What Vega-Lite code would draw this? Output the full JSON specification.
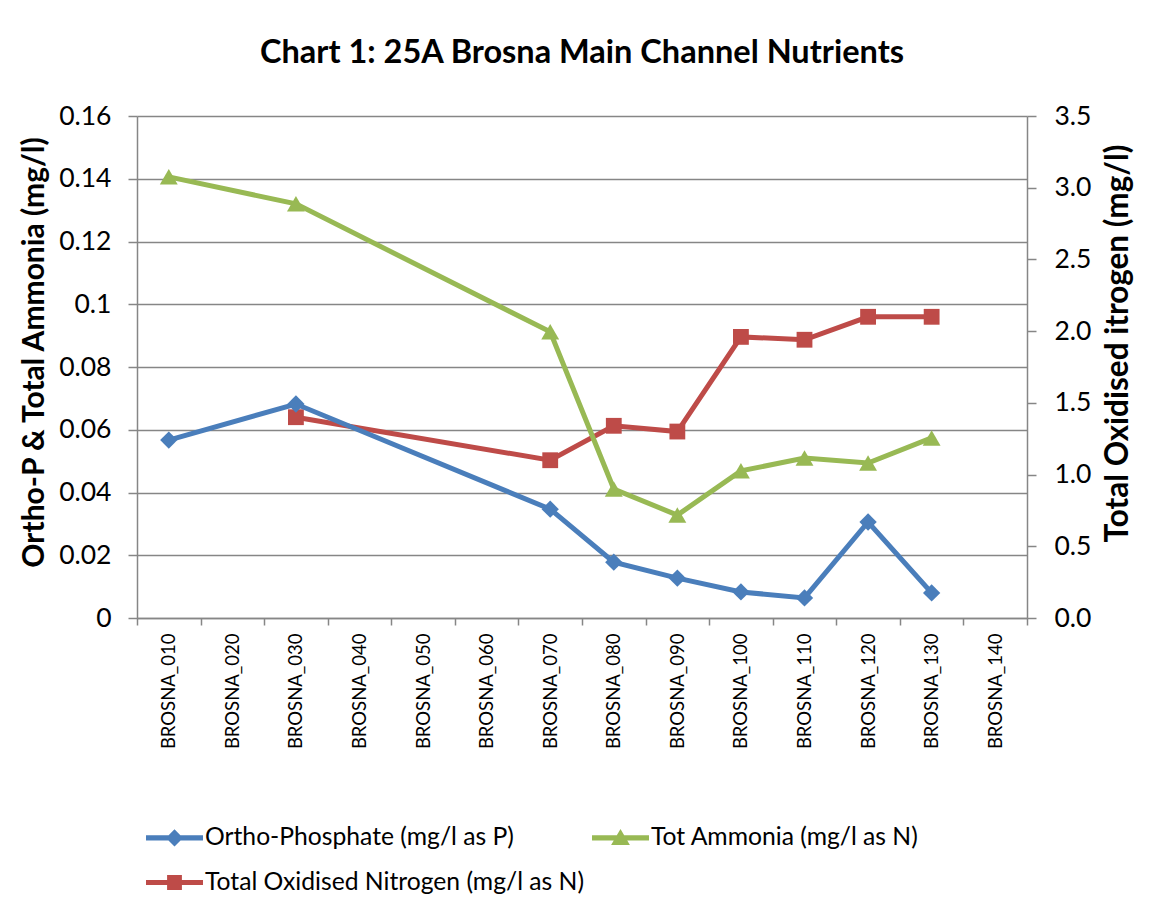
{
  "$schema": "https://vega.github.io/schema/vega-lite/v6.json",
  "width": 890,
  "height": 502,
  "autosize": {"type": "none"},
  "padding": {"left": 137, "top": 116, "right": 124, "bottom": 295},
  "background": "white",
  "title": {
    "text": "Chart 1: 25A Brosna Main Channel Nutrients",
    "font": "Lato",
    "fontSize": 32.5,
    "fontWeight": "bold",
    "color": "#000000",
    "anchor": "middle",
    "frame": "group",
    "baseline": "alphabetic",
    "offset": 8
  },
  "data": {
    "values": [
      {"site": "BROSNA_010", "series": "Ortho-Phosphate (mg/l as P)", "value": 0.0567},
      {"site": "BROSNA_030", "series": "Ortho-Phosphate (mg/l as P)", "value": 0.0682},
      {"site": "BROSNA_070", "series": "Ortho-Phosphate (mg/l as P)", "value": 0.0347},
      {"site": "BROSNA_080", "series": "Ortho-Phosphate (mg/l as P)", "value": 0.0178},
      {"site": "BROSNA_090", "series": "Ortho-Phosphate (mg/l as P)", "value": 0.0127},
      {"site": "BROSNA_100", "series": "Ortho-Phosphate (mg/l as P)", "value": 0.0083},
      {"site": "BROSNA_110", "series": "Ortho-Phosphate (mg/l as P)", "value": 0.0064},
      {"site": "BROSNA_120", "series": "Ortho-Phosphate (mg/l as P)", "value": 0.0306},
      {"site": "BROSNA_130", "series": "Ortho-Phosphate (mg/l as P)", "value": 0.008},
      {"site": "BROSNA_010", "series": "Tot Ammonia (mg/l as N)", "value": 0.1406},
      {"site": "BROSNA_030", "series": "Tot Ammonia (mg/l as N)", "value": 0.132},
      {"site": "BROSNA_070", "series": "Tot Ammonia (mg/l as N)", "value": 0.0912},
      {"site": "BROSNA_080", "series": "Tot Ammonia (mg/l as N)", "value": 0.0411},
      {"site": "BROSNA_090", "series": "Tot Ammonia (mg/l as N)", "value": 0.0328},
      {"site": "BROSNA_100", "series": "Tot Ammonia (mg/l as N)", "value": 0.0469},
      {"site": "BROSNA_110", "series": "Tot Ammonia (mg/l as N)", "value": 0.051},
      {"site": "BROSNA_120", "series": "Tot Ammonia (mg/l as N)", "value": 0.0494},
      {"site": "BROSNA_130", "series": "Tot Ammonia (mg/l as N)", "value": 0.0574},
      {"site": "BROSNA_030", "series": "Total Oxidised Nitrogen (mg/l as N)", "value": 1.40},
      {"site": "BROSNA_070", "series": "Total Oxidised Nitrogen (mg/l as N)", "value": 1.10},
      {"site": "BROSNA_080", "series": "Total Oxidised Nitrogen (mg/l as N)", "value": 1.34},
      {"site": "BROSNA_090", "series": "Total Oxidised Nitrogen (mg/l as N)", "value": 1.30},
      {"site": "BROSNA_100", "series": "Total Oxidised Nitrogen (mg/l as N)", "value": 1.96},
      {"site": "BROSNA_110", "series": "Total Oxidised Nitrogen (mg/l as N)", "value": 1.94},
      {"site": "BROSNA_120", "series": "Total Oxidised Nitrogen (mg/l as N)", "value": 2.10},
      {"site": "BROSNA_130", "series": "Total Oxidised Nitrogen (mg/l as N)", "value": 2.10}
    ]
  },
  "encoding": {
    "x": {
      "field": "site",
      "type": "nominal",
      "scale": {
        "domain": ["BROSNA_010", "BROSNA_020", "BROSNA_030", "BROSNA_040", "BROSNA_050", "BROSNA_060", "BROSNA_070", "BROSNA_080", "BROSNA_090", "BROSNA_100", "BROSNA_110", "BROSNA_120", "BROSNA_130", "BROSNA_140"],
        "paddingInner": 0,
        "paddingOuter": 0
      },
      "axis": {
        "title": null,
        "grid": false,
        "labelAngle": -90,
        "labelFontSize": 18.5,
        "labelPadding": 8,
        "tickBand": "extent",
        "tickSize": 7
      }
    }
  },
  "layer": [
    {
      "mark": {"type": "point", "filled": true, "opacity": 0, "size": 812},
      "encoding": {
        "color": {
          "field": "series",
          "type": "nominal",
          "scale": {
            "domain": ["Ortho-Phosphate (mg/l as P)", "Tot Ammonia (mg/l as N)", "Total Oxidised Nitrogen (mg/l as N)"],
            "range": ["#4A7EBB", "#98B954", "#BE4B48"]
          },
          "legend": {"title": null, "symbolOpacity": 1, "direction": "horizontal"}
        },
        "shape": {
          "field": "series",
          "type": "nominal",
          "scale": {
            "domain": ["Ortho-Phosphate (mg/l as P)", "Tot Ammonia (mg/l as N)", "Total Oxidised Nitrogen (mg/l as N)"],
            "range": [
              "M-2,-0.18L2,-0.18L2,0.18L-2,0.18Z M0,-0.6L0.6,0L0,0.6L-0.6,0Z",
              "M-2,-0.18L2,-0.18L2,0.18L-2,0.18Z M0,-0.62L0.66,0.5L-0.66,0.5Z",
              "M-2,-0.18L2,-0.18L2,0.18L-2,0.18Z M-0.52,-0.52L0.52,-0.52L0.52,0.52L-0.52,0.52Z"
            ]
          },
          "legend": {"title": null, "symbolOpacity": 1, "direction": "horizontal"}
        }
      }
    },
    {
      "transform": [{"filter": "datum.series === 'Total Oxidised Nitrogen (mg/l as N)'"}],
      "encoding": {
        "y": {
          "field": "value",
          "type": "quantitative",
          "scale": {"domain": [0, 3.5], "nice": false},
          "axis": {
            "orient": "right",
            "values": [0, 0.5, 1, 1.5, 2, 2.5, 3, 3.5],
            "format": ".1f",
            "grid": false,
            "tickSize": 9,
            "labelPadding": 18,
            "labelFontSize": 26.5,
            "title": "Total Oxidised itrogen (mg/l)",
            "titleFontSize": 31.5,
            "titleFontWeight": "bold",
            "titleAngle": -90,
            "titleX": 100,
            "titleY": 227,
            "titleBaseline": "alphabetic",
            "titleAlign": "center"
          }
        },
        "color": {"field": "series", "type": "nominal", "legend": null}
      },
      "layer": [
        {"mark": {"type": "line", "strokeWidth": 5}},
        {"mark": {"type": "point", "filled": true, "opacity": 1, "shape": "square", "size": 250}}
      ]
    },
    {
      "transform": [{"filter": "datum.series !== 'Total Oxidised Nitrogen (mg/l as N)'"}],
      "encoding": {
        "y": {
          "field": "value",
          "type": "quantitative",
          "scale": {"domain": [0, 0.16], "nice": false},
          "axis": {
            "orient": "left",
            "values": [0, 0.02, 0.04, 0.06, 0.08, 0.1, 0.12, 0.14, 0.16],
            "format": "~g",
            "grid": true,
            "tickSize": 9,
            "labelPadding": 17,
            "labelFontSize": 26.5,
            "title": "Ortho-P & Total Ammonia (mg/l)",
            "titleFontSize": 30,
            "titleFontWeight": "bold",
            "titleAngle": -90,
            "titleX": -94,
            "titleY": 236,
            "titleBaseline": "alphabetic",
            "titleAlign": "center"
          }
        },
        "color": {"field": "series", "type": "nominal", "legend": null}
      },
      "layer": [
        {"mark": {"type": "line", "strokeWidth": 5}},
        {
          "transform": [{"filter": "datum.series === 'Ortho-Phosphate (mg/l as P)'"}],
          "mark": {"type": "point", "filled": true, "opacity": 1, "shape": "diamond", "size": 300}
        },
        {
          "transform": [{"filter": "datum.series === 'Tot Ammonia (mg/l as N)'"}],
          "mark": {"type": "point", "filled": true, "opacity": 1, "shape": "triangle-up", "size": 320}
        }
      ]
    }
  ],
  "resolve": {"scale": {"y": "independent"}},
  "config": {
    "font": "Lato",
    "view": {"stroke": null},
    "axis": {
      "labelFont": "Lato",
      "titleFont": "Lato",
      "labelColor": "#000000",
      "titleColor": "#000000",
      "domainColor": "#868686",
      "tickColor": "#868686",
      "gridColor": "#868686",
      "domainWidth": 1.5,
      "tickWidth": 1.5,
      "gridWidth": 1.5
    },
    "legend": {
      "orient": "none",
      "legendX": 23,
      "legendY": 707,
      "direction": "horizontal",
      "columns": 2,
      "columnPadding": 7,
      "rowPadding": 18,
      "labelFont": "Lato",
      "labelFontSize": 24.7,
      "labelColor": "#000000",
      "labelLimit": 600,
      "symbolSize": 812,
      "symbolOpacity": 1,
      "labelOffset": 16,
      "symbolStrokeWidth": 0
    }
  }
}
